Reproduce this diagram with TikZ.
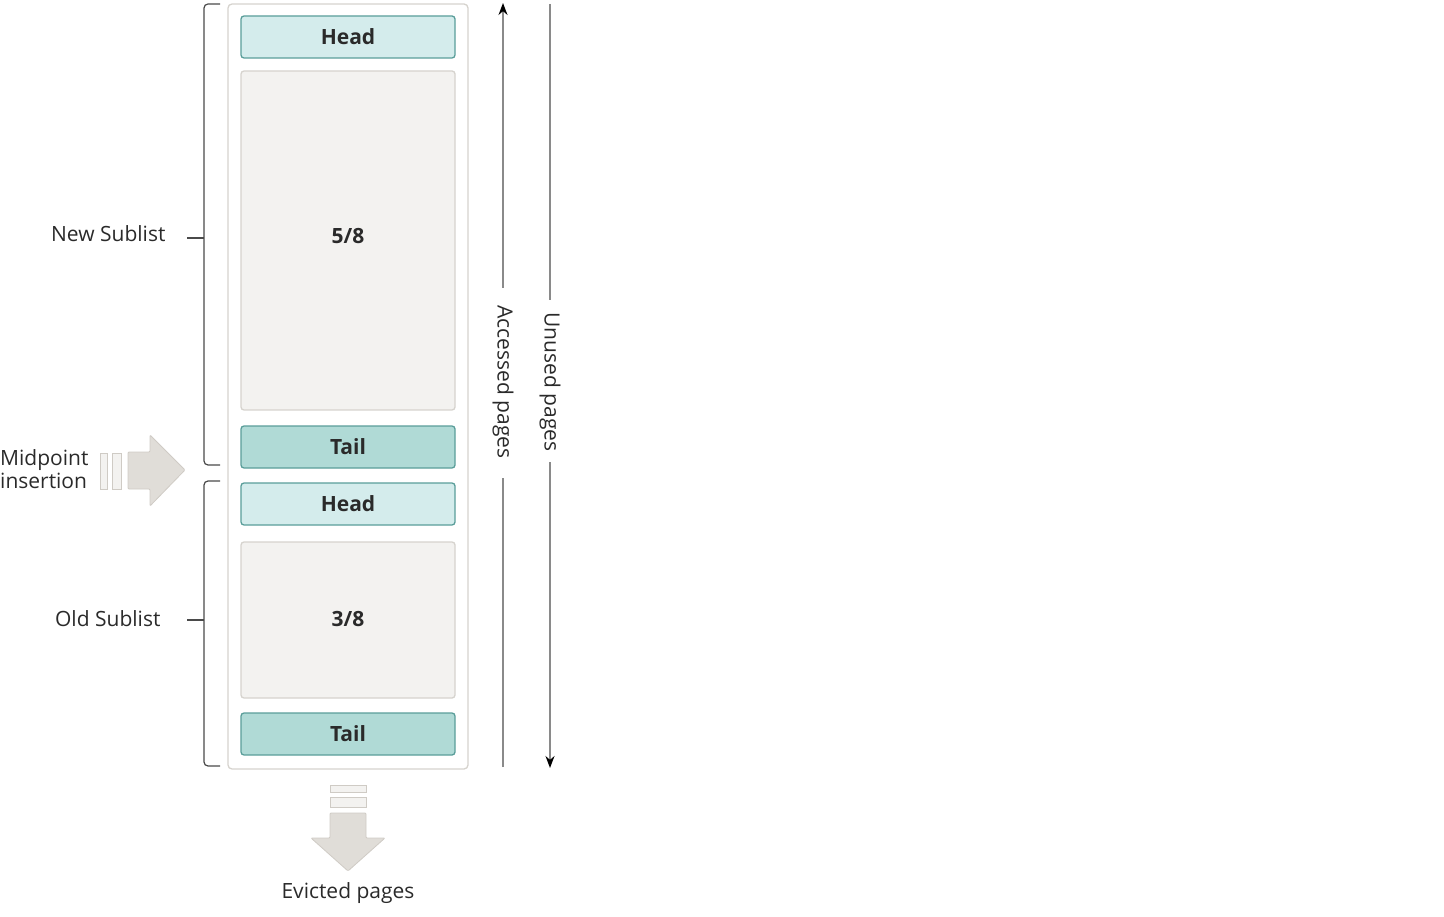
\documentclass[tikz,border=0pt]{standalone}
\usepackage{fontspec}
\setmainfont{Open Sans}
\usetikzlibrary{arrows.meta}
\definecolor{headfill}{HTML}{D4ECEC}
\definecolor{tailfill}{HTML}{B0DAD6}
\definecolor{tealline}{HTML}{5A9E9A}
\definecolor{boxfill}{HTML}{F3F2F0}
\definecolor{boxline}{HTML}{D6D3CE}
\definecolor{arrfill}{HTML}{E0DDD8}
\definecolor{arrline}{HTML}{CFCBC5}
\definecolor{txt}{HTML}{2A2A2A}
\definecolor{lin}{HTML}{8A8A8A}
\begin{document}
\begin{tikzpicture}[x=1pt,y=-1pt,
  every node/.style={text=txt,font=\fontsize{21}{23}\selectfont},
  bold/.style={font=\fontsize{21}{23}\selectfont\bfseries},
  headbox/.style={draw=tealline,fill=headfill,line width=1.3pt,rounded corners=3pt},
  tailbox/.style={draw=tealline,fill=tailfill,line width=1.3pt,rounded corners=3pt},
  pagebox/.style={draw=boxline,fill=boxfill,line width=1.3pt,rounded corners=3pt},
  outer/.style={draw=boxline,fill=white,line width=1.3pt,rounded corners=4pt},
  brace/.style={draw=txt!85,line width=1.2pt,rounded corners=4pt},
  fat/.style={fill=arrfill,draw=arrline,line width=0.8pt},
  slot/.style={fill=boxfill,draw=arrline,line width=0.8pt},
  vline/.style={draw=lin,line width=1.6pt},
  tip/.style={-{Stealth[length=12pt,width=9pt,color=black]}}]
\useasboundingbox (0,0) rectangle (1444,917);
% container
\draw[outer] (228,4) rectangle (468,769);
\draw[headbox] (241,16) rectangle (455,58);
\node[bold] (h1) at (348,37) {Head};
\draw[pagebox] (241,71) rectangle (455,410);
\node[bold] (n58) at (348,236) {5/8};
\draw[tailbox] (241,426) rectangle (455,468);
\node[bold] (t1) at (348,447) {Tail};
\draw[headbox] (241,483) rectangle (455,525);
\node[bold] (h2) at (348,504) {Head};
\draw[pagebox] (241,542) rectangle (455,698);
\node[bold] (n38) at (348,619) {3/8};
\draw[tailbox] (241,713) rectangle (455,755);
\node[bold] (t2) at (348,734) {Tail};
% braces
\draw[brace] (220,4) -- (204,4) -- (204,465) -- (220,465);
\draw[draw=txt!85,line width=1.2pt] (187,238) -- (204,238);
\draw[brace] (220,481) -- (204,481) -- (204,766) -- (220,766);
\draw[draw=txt!85,line width=1.2pt] (187,620) -- (204,620);
\node[anchor=east] (ns) at (169,234) {New Sublist};
\node[anchor=east] (os) at (164,619) {Old Sublist};
% midpoint insertion
\node[anchor=west,align=left,inner sep=0pt] (mi) at (0,469) {Midpoint\\insertion};
\draw[slot] (100,453) rectangle (107,489);
\draw[slot] (112,453) rectangle (121,489);
\draw[fat,rounded corners=1pt] (128,452) -- (150,452) -- (150,435) -- (185,470) -- (150,506) -- (150,489) -- (128,489) -- cycle;
% evicted pages
\draw[slot] (330,785) rectangle (366,792);
\draw[slot] (330,797) rectangle (366,807);
\draw[fat,rounded corners=1pt] (330,813) -- (366,813) -- (366,838) -- (385,838) -- (348,871) -- (311,838) -- (330,838) -- cycle;
\node (ev) at (348,893) {Evicted pages};
% accessed pages
\coordinate (a0) at (503,767);
\coordinate (a1) at (503,478);
\coordinate (a2) at (503,288);
\coordinate (a3) at (503,3);
\node[rotate=-90] (acc) at (503,382) {Accessed pages};
\draw[vline] (a0) -- (a1);
\draw[vline,tip] (a2) -- (a3);
% unused pages
\coordinate (u0) at (550,4);
\coordinate (u1) at (550,300);
\coordinate (u2) at (550,462);
\coordinate (u3) at (550,768);
\node[rotate=-90] (un) at (550,382) {Unused pages};
\draw[vline] (u0) -- (u1);
\draw[vline,tip] (u2) -- (u3);
\end{tikzpicture}
\end{document}
